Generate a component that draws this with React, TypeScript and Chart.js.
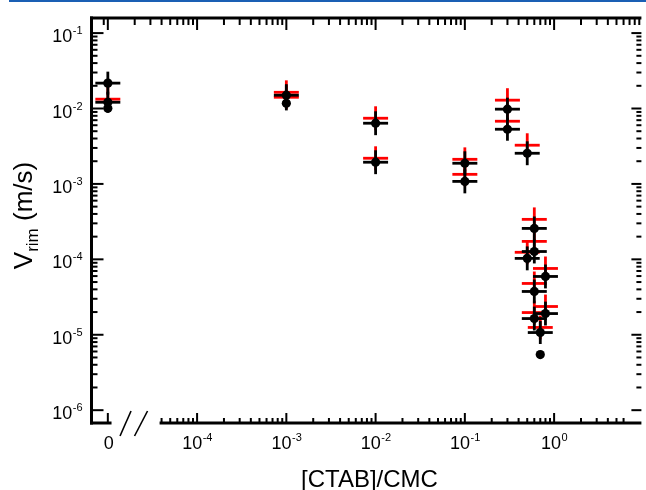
import React, { useEffect, useRef } from "react";
import { Chart, registerables } from "chart.js";

Chart.register(...registerables);

// ---- data ----
// [CTAB]/CMC = 0 is shown left of the axis break, at this log position
const ZERO_AT = 1e-5;
const AXIS_BREAK = [1.1e-5, 3.8e-5];

const blackX = [0, 0, 0, 0.001, 0.001, 0.01, 0.01, 0.1, 0.1, 0.3, 0.3, 0.5, 0.6, 0.6, 0.5, 0.8, 0.6, 0.8, 0.6, 0.7, 0.7];
const blackY = [0.0217, 0.0121, 0.0101, 0.015, 0.0117, 0.00638, 0.00194, 0.00188, 0.00108, 0.0098, 0.00531, 0.00255, 2.57e-4, 1.27e-4, 1.03e-4, 5.93e-5, 3.75e-5, 1.91e-5, 1.64e-5, 1.07e-5, 5.46e-6];
// multiplicative error factors (0 = no bar)
const blackYErr = [1.42, 1.38, 0, 1.4, 1.24, 1.44, 1.44, 1.44, 1.44, 1.42, 1.42, 1.44, 1.44, 1.44, 1.44, 1.44, 1.44, 1.44, 1.44, 1.42, 0];
const blackXErr = [1.38, 1.38, 0, 1.38, 0, 1.38, 1.38, 1.38, 1.38, 1.38, 1.38, 1.38, 1.38, 1.38, 1.38, 1.38, 1.38, 1.38, 1.38, 1.38, 0];

const redX = [0, 0.001, 0.001, 0.01, 0.01, 0.1, 0.1, 0.3, 0.3, 0.5, 0.6, 0.6, 0.5, 0.8, 0.6, 0.8, 0.6, 0.7];
const redY = [0.0133, 0.0164, 0.0141, 0.00743, 0.00219, 0.00212, 0.00134, 0.0129, 0.00678, 0.00326, 3.39e-4, 1.73e-4, 1.24e-4, 7.57e-5, 4.79e-5, 2.37e-5, 1.97e-5, 1.25e-5];
const redYErr = [1.44, 1.44, 1.44, 1.44, 1.44, 1.44, 1.44, 1.44, 1.44, 1.44, 1.44, 1.44, 1.44, 1.44, 1.44, 1.44, 1.44, 1.44];
const redXErr = [1.38, 1.38, 1.38, 1.38, 1.38, 1.38, 1.38, 1.38, 1.38, 1.38, 1.38, 1.38, 1.38, 1.38, 1.38, 1.38, 1.38, 1.38];

const xDecades = [-4, -3, -2, -1, 0];
const yDecades = [-6, -5, -4, -3, -2, -1];
const xTitle = "[CTAB]/CMC";
const yTitleMain = "V";
const yTitleSub = "rim";
const yTitleUnit = " (m/s)";

const X_MIN = Math.pow(10, -5.183);
const X_MAX = Math.pow(10, 0.978);
const Y_MIN = Math.pow(10, -6.17);
const Y_MAX = Math.pow(10, -0.8);

const FONT = '"Liberation Sans", Arial, Helvetica, sans-serif';

const toPoints = (xs: number[], ys: number[]) =>
  xs.map((x, i) => ({ x: x === 0 ? ZERO_AT : x, y: ys[i] }));

const errorBarPlugin = {
  id: "errorBars",
  beforeDatasetsDraw(chart: any) {
    const ctx = chart.ctx;
    const xs = chart.scales.x;
    const ys = chart.scales.y;
    ctx.save();
    ctx.lineCap = "butt";
    // draw red first (back), then black
    const order = [1, 0];
    for (const di of order) {
      const ds = chart.data.datasets[di];
      ctx.strokeStyle = ds.errColor;
      ctx.lineWidth = 2.8;
      ds.data.forEach((p: any, i: number) => {
        const px = xs.getPixelForValue(p.x);
        const py = ys.getPixelForValue(p.y);
        const fy = ds.errY[i];
        const fx = ds.errX[i];
        if (fy) {
          ctx.beginPath();
          ctx.moveTo(px, ys.getPixelForValue(p.y * fy));
          ctx.lineTo(px, ys.getPixelForValue(p.y / fy));
          ctx.stroke();
        }
        if (fx) {
          ctx.beginPath();
          ctx.moveTo(xs.getPixelForValue(p.x / fx), py);
          ctx.lineTo(xs.getPixelForValue(p.x * fx), py);
          ctx.stroke();
        }
      });
    }
    ctx.restore();
  },
};

function drawPow(ctx: CanvasRenderingContext2D, exp: number, x: number, baseY: number, align: "right" | "center") {
  const base = "10";
  const sup = String(exp);
  ctx.font = `18px ${FONT}`;
  const wb = ctx.measureText(base).width;
  ctx.font = `11px ${FONT}`;
  const ws = ctx.measureText(sup).width;
  const total = wb + ws;
  const start = align === "right" ? x - total : x - total / 2;
  ctx.textAlign = "left";
  ctx.textBaseline = "alphabetic";
  ctx.font = `18px ${FONT}`;
  ctx.fillText(base, start, baseY);
  ctx.font = `11px ${FONT}`;
  ctx.fillText(sup, start + wb + 0.5, baseY - 8);
}

const framePlugin = {
  id: "frame",
  afterDraw(chart: any) {
    const ctx: CanvasRenderingContext2D = chart.ctx;
    const xs = chart.scales.x;
    const ys = chart.scales.y;
    const { left, right, top, bottom } = chart.chartArea;
    const X = (v: number) => xs.getPixelForValue(v);
    const Y = (v: number) => ys.getPixelForValue(v);
    const line = (x1: number, y1: number, x2: number, y2: number) => {
      ctx.beginPath();
      ctx.moveTo(x1, y1);
      ctx.lineTo(x2, y2);
      ctx.stroke();
    };
    ctx.save();
    // top blue rule
    ctx.fillStyle = "#1a5fb4";
    ctx.fillRect(9, 0, chart.width - 9, 2);

    ctx.strokeStyle = "#000";
    ctx.fillStyle = "#000";
    ctx.lineCap = "butt";
    // axis lines
    ctx.lineWidth = 3;
    line(left - 1.5, top, right, top);
    line(left, top - 1.5, left, bottom + 1.5);
    line(left - 1.5, bottom, X(AXIS_BREAK[0]), bottom);
    line(X(AXIS_BREAK[1]), bottom, right, bottom);

    // break marks
    ctx.lineWidth = 1.6;
    const b0 = X(AXIS_BREAK[0]);
    line(b0 + 8.5, bottom + 13, b0 + 19.5, bottom - 12);
    line(b0 + 23, bottom + 13, b0 + 36, bottom - 12);

    ctx.lineWidth = 2;
    // y ticks (left & right)
    for (const d of yDecades) {
      const yp = Y(Math.pow(10, d));
      line(left, yp, left + 12, yp);
      line(right, yp, right - 10, yp);
      if (d < -1) {
        for (let k = 2; k <= 9; k++) {
          const ym = Y(k * Math.pow(10, d));
          line(left, ym, left + 6, ym);
          line(right, ym, right - 5, ym);
        }
      }
    }
    // x ticks top (full log)
    const topMinor = [9e-6];
    for (let d = -5; d <= 0; d++) {
      for (let k = 2; k <= 9; k++) topMinor.push(k * Math.pow(10, d));
    }
    for (const v of topMinor) {
      const xp = X(v);
      if (xp > left + 2 && xp < right - 1) line(xp, top, xp, top + 7);
    }
    for (let d = -5; d <= 0; d++) {
      const xp = X(Math.pow(10, d));
      line(xp, top, xp, top + 12);
    }
    // x ticks bottom
    line(X(ZERO_AT), bottom, X(ZERO_AT), bottom - 10);
    for (const d of xDecades) {
      const xp = X(Math.pow(10, d));
      line(xp, bottom, xp, bottom - 10);
    }
    for (let d = -5; d <= 0; d++) {
      for (let k = 2; k <= 9; k++) {
        const v = k * Math.pow(10, d);
        if (v <= AXIS_BREAK[1] * 1.05) continue;
        const xp = X(v);
        if (xp < right - 12) line(xp, bottom, xp, bottom - 5);
      }
    }

    // y tick labels
    for (const d of yDecades) {
      const yp = Y(Math.pow(10, d));
      drawPow(ctx, d, left - 9.5, yp + 9, "right");
    }
    // x tick labels
    ctx.font = `18px ${FONT}`;
    ctx.textAlign = "center";
    ctx.textBaseline = "alphabetic";
    ctx.fillText("0", X(ZERO_AT) + 1, bottom + 26);
    for (const d of xDecades) {
      drawPow(ctx, d, X(Math.pow(10, d)), bottom + 26, "center");
    }

    // x title
    ctx.font = `24px ${FONT}`;
    ctx.textAlign = "center";
    ctx.fillText(xTitle, (left + right) / 2 + 3, bottom + 64);

    // y title (rotated, with subscript)
    ctx.save();
    ctx.translate(32, (top + bottom) / 2 - 5);
    ctx.rotate(-Math.PI / 2);
    ctx.textAlign = "left";
    ctx.font = `26px ${FONT}`;
    const wV = ctx.measureText(yTitleMain).width;
    const wU = ctx.measureText(yTitleUnit).width;
    ctx.font = `17px ${FONT}`;
    const wS = ctx.measureText(yTitleSub).width;
    const tot = wV + wS + wU;
    let cx = -tot / 2;
    ctx.font = `26px ${FONT}`;
    ctx.fillText(yTitleMain, cx, 0);
    cx += wV;
    ctx.font = `17px ${FONT}`;
    ctx.fillText(yTitleSub, cx, 6);
    cx += wS;
    ctx.font = `26px ${FONT}`;
    ctx.fillText(yTitleUnit, cx, 0);
    ctx.restore();

    ctx.restore();
  },
};

export default function App() {
  const ref = useRef<HTMLCanvasElement>(null);
  useEffect(() => {
    const canvas = ref.current!;
    const chart = new Chart(canvas, {
      type: "scatter",
      data: {
        datasets: [
          {
            label: "black",
            data: toPoints(blackX, blackY),
            errX: blackXErr,
            errY: blackYErr,
            errColor: "#000000",
            backgroundColor: "#000000",
            borderColor: "#000000",
            pointRadius: 4.6,
            pointHoverRadius: 4.6,
            pointBorderWidth: 0,
          } as any,
          {
            label: "red",
            data: toPoints(redX, redY),
            errX: redXErr,
            errY: redYErr,
            errColor: "#ff0000",
            backgroundColor: "#ff0000",
            borderColor: "#ff0000",
            pointRadius: 0,
            pointHoverRadius: 0,
            pointBorderWidth: 0,
          } as any,
        ],
      },
      options: {
        responsive: false,
        animation: false,
        devicePixelRatio: 1,
        events: [],
        layout: { padding: { left: 91.5, top: 18, right: 0, bottom: 67 } },
        plugins: { legend: { display: false }, tooltip: { enabled: false } },
        scales: {
          x: { type: "logarithmic", display: false, min: X_MIN, max: X_MAX, bounds: "data" },
          y: { type: "logarithmic", display: false, min: Y_MIN, max: Y_MAX, bounds: "data" },
        },
      },
      plugins: [errorBarPlugin, framePlugin],
    });
    return () => chart.destroy();
  }, []);
  return (
    <div style={{ position: "fixed", left: 0, top: 0, width: 646, height: 490, background: "#fff" }}>
      <canvas ref={ref} width={646} height={490} style={{ display: "block", width: 646, height: 490 }} />
    </div>
  );
}
